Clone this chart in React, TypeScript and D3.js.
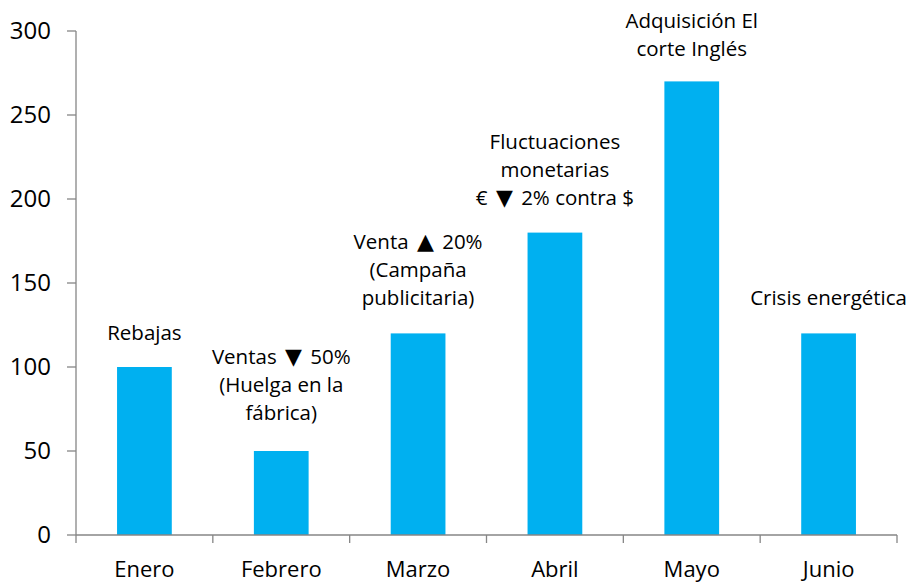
import React from "react";
import * as d3 from "d3";

const months = ["Enero", "Febrero", "Marzo", "Abril", "Mayo", "Junio"];
const values = [100, 50, 120, 180, 270, 120];
const yTicks = [0, 50, 100, 150, 200, 250, 300];
const notes: string[][] = [
  ["Rebajas"],
  ["Ventas ▼ 50%", "(Huelga en la", "fábrica)"],
  ["Venta ▲ 20%", "(Campaña", "publicitaria)"],
  ["Fluctuaciones", "monetarias", "€ ▼ 2% contra $"],
  ["Adquisición El", "corte Inglés"],
  ["Crisis energética"],
];
// value (in axis units) where the last line of each note is centred
const noteAt = [120, 72.5, 141, 200.5, 289, 141];

const W = 912;
const H = 582;
const FONT = "'Open Sans', sans-serif";

export default function App() {
  const x = d3
    .scaleBand<string>()
    .domain(months)
    .range([76, 897])
    .paddingInner(0.6)
    .paddingOuter(0.3);
  const y = d3.scaleLinear().domain([0, 300]).range([535, 31]);
  const step = x.step();
  const x0 = 76;
  const axisColor = "#868686";
  const lineH = 28;

  return (
    <svg
      width={W}
      height={H}
      style={{ position: "absolute", left: 0, top: 0, background: "#fff" }}
      fontFamily={FONT}
    >
      {/* bars */}
      {values.map((v, i) => (
        <rect
          key={months[i]}
          x={x(months[i])}
          y={y(v)}
          width={x.bandwidth()}
          height={y(0) - y(v)}
          fill="#00B0F0"
        />
      ))}
      {/* y axis */}
      <line x1={x0} x2={x0} y1={y(300)} y2={y(0)} stroke={axisColor} strokeWidth={1.3} />
      {yTicks.map((t) => (
        <g key={t}>
          <line x1={x0 - 9} x2={x0} y1={y(t)} y2={y(t)} stroke={axisColor} strokeWidth={1.3} />
          <text x={51} y={y(t)} dy="0.35em" textAnchor="end" fontSize={24} fill="#000">
            {t}
          </text>
        </g>
      ))}
      {/* x axis */}
      <line x1={x0} x2={x0 + step * months.length} y1={y(0)} y2={y(0)} stroke={axisColor} strokeWidth={1.3} />
      {d3.range(months.length + 1).map((i) => (
        <line
          key={i}
          x1={x0 + step * i}
          x2={x0 + step * i}
          y1={y(0)}
          y2={y(0) + 8}
          stroke={axisColor}
          strokeWidth={1.3}
        />
      ))}
      {months.map((m) => (
        <text
          key={m}
          x={(x(m) as number) + x.bandwidth() / 2}
          y={577}
          textAnchor="middle"
          fontSize={22}
          fill="#000"
        >
          {m}
        </text>
      ))}
      {/* annotations */}
      {notes.map((lines, i) => {
        const cx = (x(months[i]) as number) + x.bandwidth() / 2;
        const last = y(noteAt[i]);
        return (
          <text key={i} textAnchor="middle" fontSize={20.5} fill="#000">
            {lines.map((l, j) => {
              const parts = l.split(/([▲▼])/);
              return (
                <tspan key={j} x={cx} y={last - (lines.length - 1 - j) * lineH + 7}>
                  {parts.map((part, k) =>
                    part === "▲" || part === "▼" ? (
                      <tspan key={k} dx={3} fontFamily="'DejaVu Sans', sans-serif" fontSize={22}>
                        {part}
                      </tspan>
                    ) : (
                      <tspan key={k} dx={k > 0 ? 3 : 0}>
                        {part}
                      </tspan>
                    )
                  )}
                </tspan>
              );
            })}
          </text>
        );
      })}
    </svg>
  );
}
